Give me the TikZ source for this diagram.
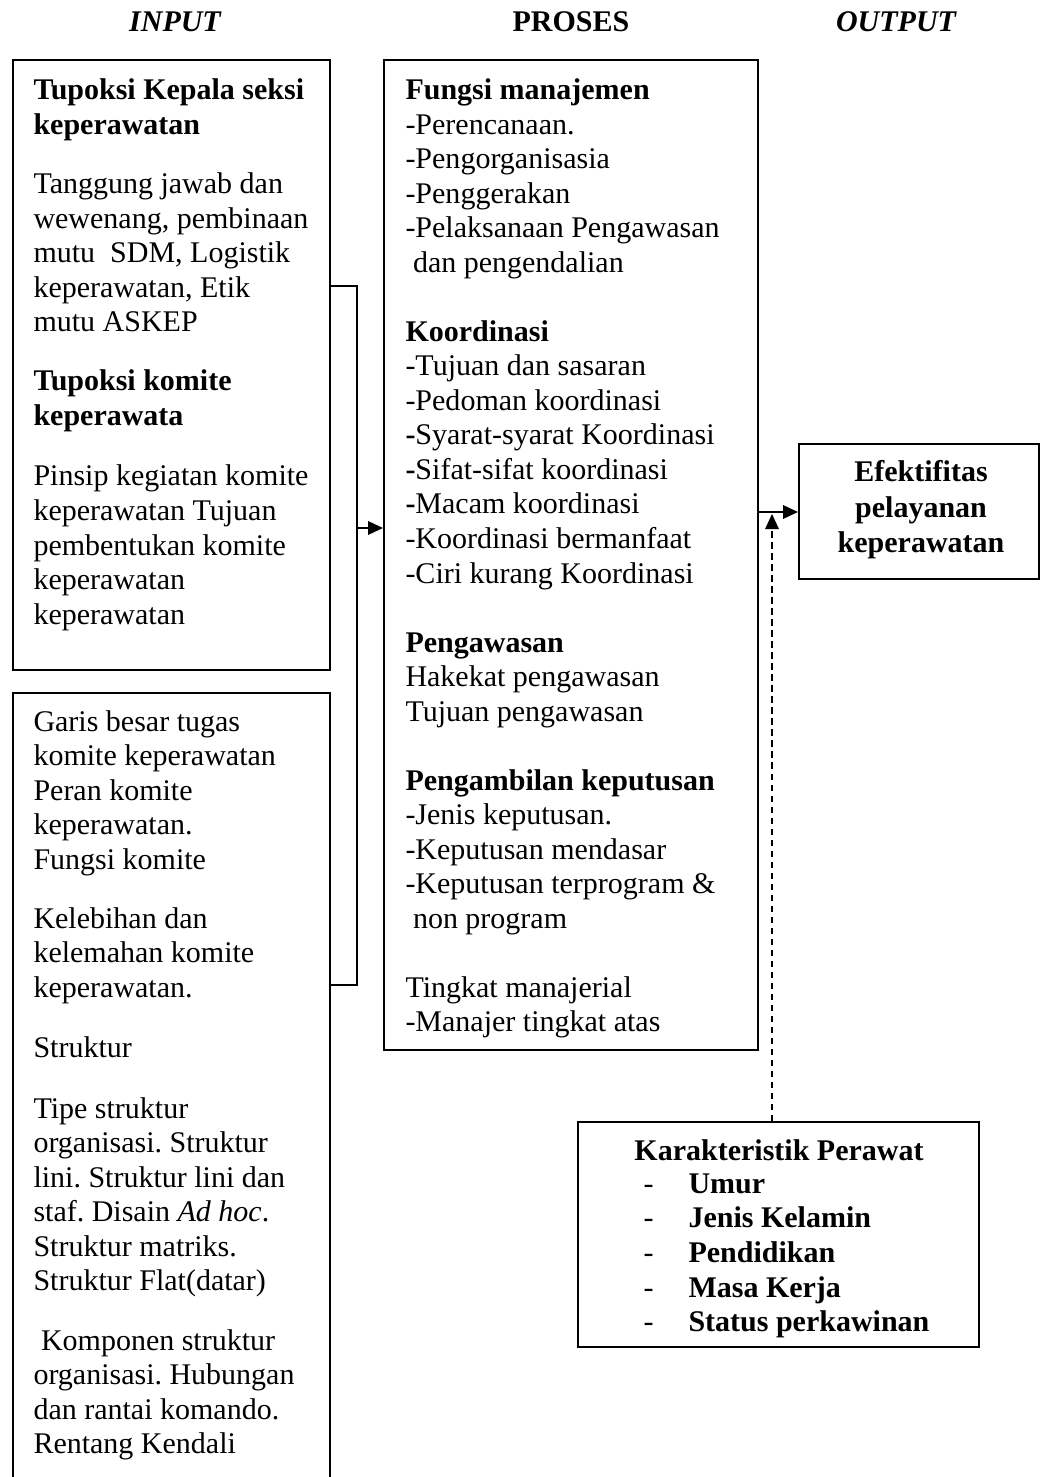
\documentclass[tikz,border=0pt]{standalone}
\usepackage{fontspec}
\setmainfont{Liberation Serif}
\usetikzlibrary{arrows.meta,fit}
\frenchspacing
\begin{document}
\begin{tikzpicture}[x=0.4pt,y=-0.4pt,
  font=\fontsize{12}{13.8}\selectfont,
  box/.style={draw, line width=0.8pt, inner sep=0pt, fit={#1}},
  ln/.style={anchor=base west, inner sep=0pt},
  cl/.style={anchor=base, inner sep=0pt, font=\fontsize{12}{13.8}\selectfont\bfseries},
  arr/.style={-{Triangle[length=6pt,width=5.4pt]}, line width=0.8pt},
  link/.style={line width=0.8pt}]
\useasboundingbox (0,0) rectangle (1041,1477);
\fill[white] (0,0) rectangle (1041,1477);
\clip (0,0) rectangle (1041,1477);

% headers
\node[cl, font=\fontsize{12}{13.8}\selectfont\bfseries\itshape] (hin) at (175,32) {INPUT};
\node[cl] (hpr) at (571,32) {PROSES};
\node[cl, font=\fontsize{12}{13.8}\selectfont\bfseries\itshape] (hout) at (896,32) {OUTPUT};

% boxes
\node[box={(13,60) (330,670)}] (b1) {};
\node[box={(13,693) (330,1500)}] (b2) {};
\node[box={(384,60) (758,1050)}] (b3) {};
\node[box={(799,444) (1039,579)}] (b4) {};
\node[box={(578,1122) (979,1347)}] (b5) {};

% box 1 text
\foreach \t [count=\i from 0] in {{Tupoksi Kepala seksi},{keperawatan}}
  \node[ln, font=\fontsize{12}{13.8}\selectfont\bfseries] (a1l\i) at (33,{100+34.5*\i}) {\t};
\foreach \t [count=\i from 0] in {{Tanggung jawab dan},{wewenang, pembinaan},{mutu\ \ SDM, Logistik},{keperawatan, Etik},{mutu ASKEP}}
  \node[ln] (a2l\i) at (33,{194+34.5*\i}) {\t};
\foreach \t [count=\i from 0] in {{Tupoksi komite},{keperawata}}
  \node[ln, font=\fontsize{12}{13.8}\selectfont\bfseries] (a3l\i) at (33,{391+34.5*\i}) {\t};
\foreach \t [count=\i from 0] in {{Pinsip kegiatan komite},{keperawatan Tujuan},{pembentukan komite},{keperawatan},{keperawatan}}
  \node[ln] (a4l\i) at (33,{486+34.5*\i}) {\t};

% box 2 text
\foreach \t [count=\i from 0] in {{Garis besar tugas},{komite keperawatan},{Peran komite},{keperawatan.},{Fungsi komite}}
  \node[ln] (c1l\i) at (33,{731+34.5*\i}) {\t};
\foreach \t [count=\i from 0] in {{Kelebihan dan},{kelemahan komite},{keperawatan.}}
  \node[ln] (c2l\i) at (33,{928+34.5*\i}) {\t};
\node[ln] (c3l0) at (33,1057) {Struktur};
\foreach \t [count=\i from 0] in {{Tipe struktur},{organisasi. Struktur},{lini. Struktur lini dan},{staf. Disain \textit{Ad hoc}.},{Struktur matriks.},{Struktur Flat(datar)}}
  \node[ln] (c4l\i) at (33,{1118+34.5*\i}) {\t};
\foreach \t [count=\i from 0] in {{\ Komponen struktur},{organisasi. Hubungan},{dan rantai komando.},{Rentang Kendali}}
  \node[ln] (c5l\i) at (33,{1350+34.5*\i}) {\t};

% box 3 text
\foreach \t [count=\i from 0] in {{\textbf{Fungsi manajemen}},{-Perencanaan.},{-Pengorganisasia},{-Penggerakan},{-Pelaksanaan Pengawasan},{\ dan pengendalian},{},
  {\textbf{Koordinasi}},{-Tujuan dan sasaran},{-Pedoman koordinasi},{\textbf{-}Syarat-syarat Koordinasi},{\textbf{-}Sifat-sifat koordinasi},{\textbf{-}Macam koordinasi},{-Koordinasi bermanfaat},{-Ciri kurang Koordinasi},{},
  {\textbf{Pengawasan}},{Hakekat pengawasan},{Tujuan pengawasan},{},
  {\textbf{Pengambilan keputusan}},{-Jenis keputusan.},{-Keputusan mendasar},{-Keputusan terprogram \&},{\ non program},{},
  {Tingkat manajerial},{-Manajer tingkat atas}}
  \node[ln] (pl\i) at (405,{100+34.5*\i}) {\t};

% box 4 text
\foreach \t [count=\i from 0] in {{Efektifitas},{pelayanan},{keperawatan}}
  \node[cl] (ol\i) at (921,{482+35*\i}) {\t};

% box 5 text
\node[cl] (kt) at (779,1160) {Karakteristik Perawat};
\foreach \t [count=\i from 0] in {{Umur},{Jenis Kelamin},{Pendidikan},{Masa Kerja},{Status perkawinan}} {
  \node[ln] (kd\i) at (643,{1193+34.7*\i}) {-};
  \node[ln, font=\fontsize{12}{13.8}\selectfont\bfseries] (kl\i) at (688,{1193+34.7*\i}) {\t};
}

% connectors
\coordinate (bt) at (357,286);
\coordinate (bb) at (357,985);
\coordinate (bj) at (357,528);
\coordinate (oj) at (770,512);
\coordinate (dj) at (772,514);
\draw[link] (b1.east |- bt) -- (bt) -- (bb) -- (b2.east |- bb);
\draw[arr] (bj) -- (b3.west |- bj);
\draw[arr] (b3.east |- oj) -- (b4.west |- oj);
\draw[-{Triangle[length=6pt,width=5.4pt]}, line width=0.6pt, dash pattern=on 2.6pt off 1.8pt] (b5.north -| dj) -- (dj);
\end{tikzpicture}
\end{document}
